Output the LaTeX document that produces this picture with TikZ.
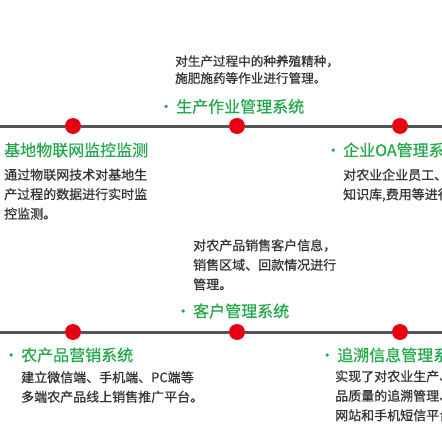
\documentclass[tikz,border=0pt]{standalone}
\usepackage{fontspec}
\setmainfont{Noto Sans CJK SC}
\newfontfamily\bodyfont{Noto Sans CJK SC}[FakeBold=0.6]
\newfontfamily\titlefont{Noto Sans CJK SC}[FakeBold=0.4]
\definecolor{railgray}{HTML}{555555}
\definecolor{dotred}{HTML}{E60012}
\definecolor{titlegreen}{HTML}{22A84A}
\definecolor{bodygray}{HTML}{333333}
\tikzset{
  rail/.style={draw=railgray, line width=3pt},
  dot/.style={circle, fill=dotred, inner sep=0pt, minimum size=16pt},
  title/.style={anchor=west, inner sep=0pt, text=titlegreen,
    font=\titlefont\fontsize{16}{19}\selectfont},
  body/.style={anchor=north west, inner sep=0pt, text=bodygray, align=left,
    font=\bodyfont\fontsize{13}{19.5}\selectfont}
}
\begin{document}
\begin{tikzpicture}[x=1pt,y=-1pt]
  \useasboundingbox[fill=white] (0,0) rectangle (442,442);
  % upper row
  \coordinate (tl) at (0,126);
  \coordinate (tr) at (442,126);
  \node[dot] (t1) at (73,126) {};
  \node[dot] (t2) at (237,126) {};
  \node[dot] (t3) at (400,126) {};
  \draw[rail] (tl) -- (t1) -- (t2) -- (t3) -- (tr);
  \node[body, font=\bodyfont\fontsize{12.6}{17}\selectfont] (prodtext) at (175,55)
    {对生产过程中的种养殖精种，\\施肥施药等作业进行管理。};
  \node[title] (prod) at (158,106.5) {·\hspace{2pt}生产作业管理系统};
  \node[title] (iot) at (4,150) {基地物联网监控监测};
  \node[body] (iottext) at (4,168.5) {通过物联网技术对基地生\\产过程的数据进行实时监\\控监测。};
  \node[title] (oa) at (325,150) {·\hspace{2pt}企业OA管理系统};
  \node[body] (oatext) at (343,168.5) {对农业企业员工、客户、\\知识库,费用等进行管理。};
  % lower row
  \coordinate (bl) at (0,332);
  \coordinate (br) at (442,332);
  \node[dot] (b1) at (73,332) {};
  \node[dot] (b2) at (237,332) {};
  \node[dot] (b3) at (400,332) {};
  \draw[rail] (bl) -- (b1) -- (b2) -- (b3) -- (br);
  \node[body] (crmtext) at (193,239) {对农产品销售客户信息，\\销售区域、回款情况进行\\管理。};
  \node[title] (crm) at (175,311) {·\hspace{2pt}客户管理系统};
  \node[title] (sale) at (3,355) {·\hspace{2pt}农产品营销系统};
  \node[body] (saletext) at (21,371) {建立微信端、手机端、PC端等\\多端农产品线上销售推广平台。};
  \node[title] (trace) at (319,355) {·\hspace{2pt}追溯信息管理系统};
  \node[body] (tracetext) at (335,370) {实现了对农业生产、农产\\品质量的追溯管理、通过\\网站和手机短信平台查询};
\end{tikzpicture}
\end{document}
